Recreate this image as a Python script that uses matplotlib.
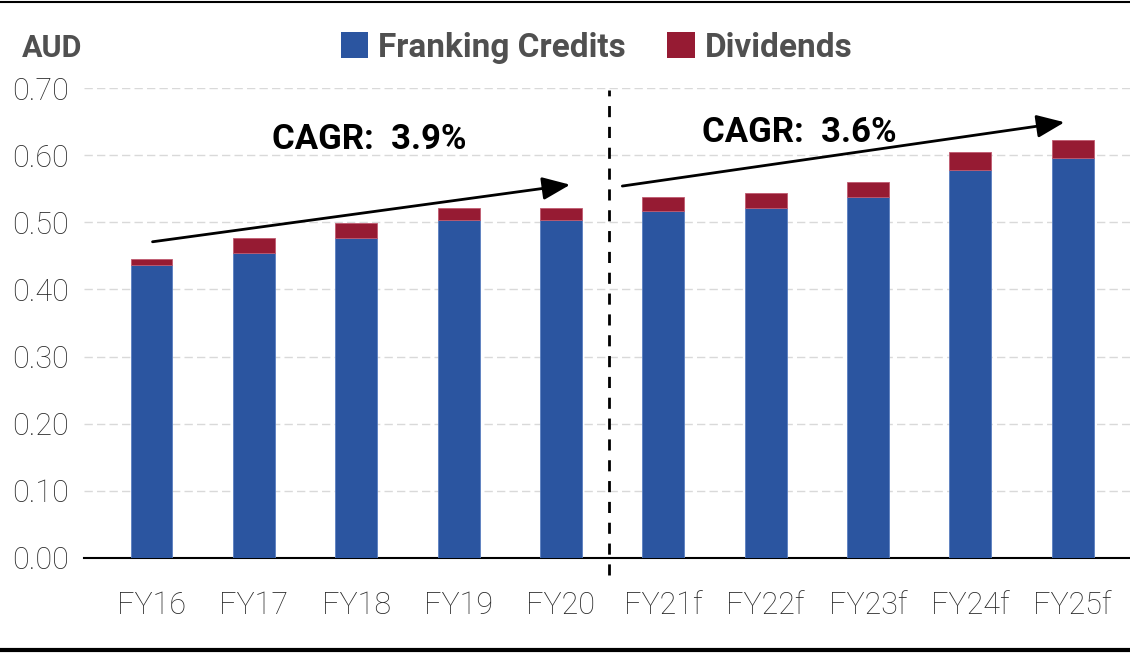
import matplotlib
matplotlib.use("Agg")
import matplotlib.pyplot as plt
from matplotlib.lines import Line2D
from matplotlib.patches import Patch

plt.rcParams["font.family"] = ["Roboto", "DejaVu Sans"]

years = ["FY16", "FY17", "FY18", "FY19", "FY20",
         "FY21f", "FY22f", "FY23f", "FY24f", "FY25f"]
franking = [0.436, 0.454, 0.477, 0.503, 0.503, 0.517, 0.521, 0.538, 0.578, 0.596]
dividends = [0.009, 0.023, 0.022, 0.018, 0.018, 0.021, 0.023, 0.022, 0.027, 0.027]
yticks = [0.0, 0.1, 0.2, 0.3, 0.4, 0.5, 0.6, 0.7]

blue = "#2B55A0"
red = "#961B33"
grey_txt = "#2a2a2a"

fig = plt.figure(figsize=(11.3, 6.54), dpi=100, facecolor="white")
ax = fig.add_axes([0.0743, 0.1468, 0.9257, 0.7186])

xs = list(range(len(years)))
ax.bar(xs, franking, width=0.41, color=blue, edgecolor="#5a7fc0", linewidth=0.6, zorder=3)
ax.bar(xs, dividends, width=0.41, bottom=franking, color=red, edgecolor="#c05a70",
       linewidth=0.6, zorder=3)

ax.set_ylim(0, 0.70)
ax.set_xlim(-0.66, 9.56)
ax.set_yticks(yticks)
ax.set_yticklabels([f"{v:.2f}" for v in yticks], fontweight="light")
ax.set_xticks(xs)
ax.set_xticklabels(years, fontweight="light")
ax.tick_params(axis="y", length=0, pad=11, labelsize=22, labelcolor=grey_txt)
ax.tick_params(axis="x", length=0, pad=24, labelsize=22, labelcolor=grey_txt)
ax.yaxis.grid(True, color="#d9d9d9", linestyle=(0, (6, 3)), linewidth=1, zorder=0)
for s in ["top", "right", "left"]:
    ax.spines[s].set_visible(False)
ax.spines["bottom"].set_color("black")
ax.spines["bottom"].set_linewidth(1.5)

# divider between actuals and forecasts
ax.plot([4.47, 4.47], [-0.025, 0.697], color="black", linestyle=(0, (4, 3.5)),
        linewidth=2, clip_on=False, zorder=4)

# CAGR arrows
arrow = dict(arrowstyle="-|>,head_length=1.7,head_width=0.7",
             color="black", lw=2, shrinkA=0, shrinkB=0)
ax.annotate("", xy=(4.09, 0.556), xytext=(0.01, 0.471), arrowprops=arrow)
ax.annotate("", xy=(8.92, 0.649), xytext=(4.60, 0.554), arrowprops=arrow)
ax.text(2.13, 0.623, "CAGR:  3.9%", fontsize=25, fontweight="bold",
        ha="center", va="center", color="black")
ax.text(6.33, 0.634, "CAGR:  3.6%", fontsize=25, fontweight="bold",
        ha="center", va="center", color="black")

fig.text(0.019, 0.927, "AUD", fontsize=22, fontweight="bold", color="#505050",
         ha="left", va="center")

handles = [Patch(facecolor=blue, edgecolor="none", label="Franking Credits"),
           Patch(facecolor=red, edgecolor="none", label="Dividends")]
leg = fig.legend(handles=handles, loc="center", bbox_to_anchor=(0.528, 0.927), ncol=2,
                 frameon=False, fontsize=24, handlelength=0.82, handleheight=0.82,
                 handletextpad=0.3, columnspacing=1.25)
for t in leg.get_texts():
    t.set_color("#505050")
    t.set_fontweight("bold")

fig.add_artist(Line2D([0, 1], [0.997, 0.997], color="black", linewidth=1.5,
                      transform=fig.transFigure))
fig.add_artist(Line2D([0, 1], [0.006, 0.006], color="black", linewidth=3,
                      transform=fig.transFigure))

fig.savefig("out.png", dpi=100, facecolor="white")
